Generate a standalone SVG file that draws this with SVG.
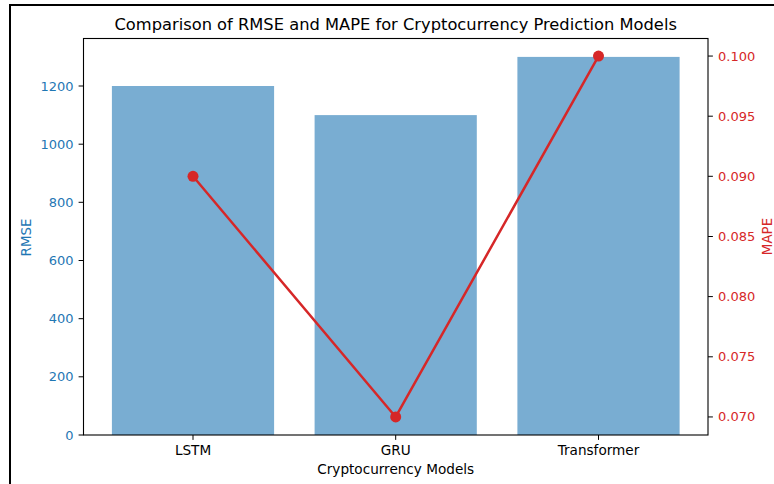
<svg xmlns="http://www.w3.org/2000/svg" width="774" height="484" viewBox="0 0 774 484">
  <style>
    text { font-family: "DejaVu Sans", "Liberation Sans", sans-serif; }
    .tick { stroke: #000; stroke-width: 1; }
    .spine { fill: none; stroke: #000; stroke-width: 1.1; }
    .lt { font-size: 13px; fill: #1f77b4; text-anchor: end; dominant-baseline: central; }
    .rt { font-size: 13px; fill: #d62728; text-anchor: start; dominant-baseline: central; }
    .xt { font-size: 13.6px; fill: #000; text-anchor: middle; }
    .bar { fill: #79add2; }
    .pt { fill: #d62728; }
  </style>
  <rect width="774" height="484" fill="#fff"/>
  <!-- figure frame -->
  <rect x="10" y="5" width="800" height="520" fill="none" stroke="#000" stroke-width="2"/>

  <!-- title -->
  <text x="395.7" y="29.5" font-size="16.3" text-anchor="middle" fill="#000">Comparison of RMSE and MAPE for Cryptocurrency Prediction Models</text>

  <!-- RMSE bars -->
  <g id="bars">
    <rect id="bar-lstm" class="bar" x="111.9" y="86.0" width="162.2" height="349.0"/>
    <rect id="bar-gru" class="bar" x="314.6" y="115.1" width="162.2" height="319.9"/>
    <rect id="bar-transformer" class="bar" x="517.4" y="56.9" width="162.2" height="378.1"/>
  </g>

  <!-- MAPE line -->
  <g id="connectors">
    <polyline points="193,176.3 395.7,416.95 598.5,56.05" fill="none" stroke="#d62728" stroke-width="2.5" stroke-linejoin="round"/>
  </g>
  <g id="mape-points">
    <circle id="pt-lstm" class="pt" cx="193" cy="176.3" r="5.5"/>
    <circle id="pt-gru" class="pt" cx="395.7" cy="416.95" r="5.5"/>
    <circle id="pt-transformer" class="pt" cx="598.5" cy="56.05" r="5.5"/>
  </g>

  <!-- axes frame -->
  <rect class="spine" x="83.5" y="38.5" width="624.5" height="396.5"/>

  <!-- left axis (RMSE) -->
  <g id="left-axis">
    <path class="tick" d="M78.6 435H83.5M78.6 376.8H83.5M78.6 318.7H83.5M78.6 260.5H83.5M78.6 202.3H83.5M78.6 144.2H83.5M78.6 86H83.5"/>
    <text class="lt" x="73.5" y="435">0</text>
    <text class="lt" x="73.5" y="376.8">200</text>
    <text class="lt" x="73.5" y="318.7">400</text>
    <text class="lt" x="73.5" y="260.5">600</text>
    <text class="lt" x="73.5" y="202.3">800</text>
    <text class="lt" x="73.5" y="144.2">1000</text>
    <text class="lt" x="73.5" y="86">1200</text>
    <text x="26" y="237.5" font-size="13.4" fill="#1f77b4" text-anchor="middle" dominant-baseline="central" transform="rotate(-90 26 237.5)">RMSE</text>
  </g>

  <!-- right axis (MAPE) -->
  <g id="right-axis">
    <path class="tick" d="M708 416.95H712.9M708 356.8H712.9M708 296.6H712.9M708 236.5H712.9M708 176.3H712.9M708 116.2H712.9M708 56.05H712.9"/>
    <text class="rt" x="718" y="416.95">0.070</text>
    <text class="rt" x="718" y="356.8">0.075</text>
    <text class="rt" x="718" y="296.6">0.080</text>
    <text class="rt" x="718" y="236.5">0.085</text>
    <text class="rt" x="718" y="176.3">0.090</text>
    <text class="rt" x="718" y="116.2">0.095</text>
    <text class="rt" x="718" y="56.05">0.100</text>
    <text x="767" y="236.5" font-size="13.4" fill="#d62728" text-anchor="middle" dominant-baseline="central" transform="rotate(-90 767 236.5)">MAPE</text>
  </g>

  <!-- x axis -->
  <g id="x-axis">
    <path class="tick" d="M193 435V439.9M395.7 435V439.9M598.5 435V439.9"/>
    <text class="xt" x="193" y="455">LSTM</text>
    <text class="xt" x="395.7" y="455">GRU</text>
    <text class="xt" x="598.5" y="455">Transformer</text>
    <text class="xt" x="395.7" y="474">Cryptocurrency Models</text>
  </g>
</svg>
